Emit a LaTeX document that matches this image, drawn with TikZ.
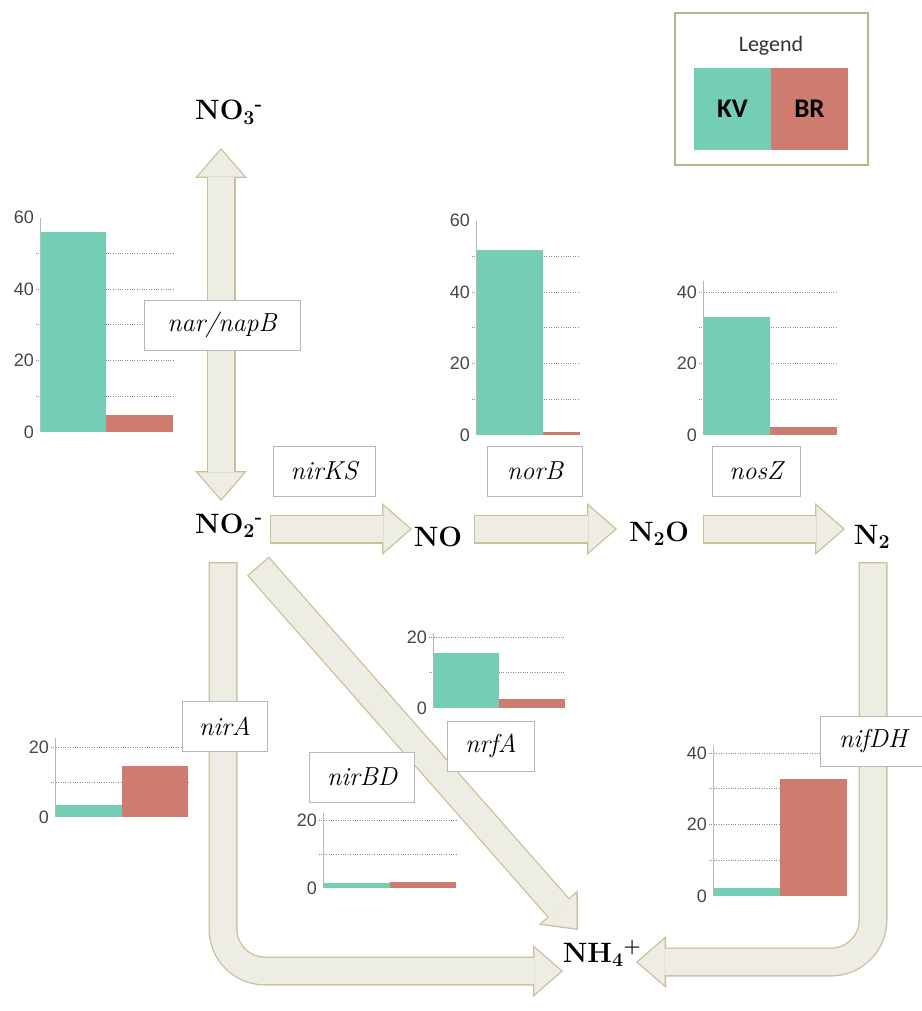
\documentclass[tikz,border=0pt]{standalone}
\usepackage{fontspec}
\usepackage{tikz}
\usetikzlibrary{arrows.meta}
\newfontfamily\chartfont{Liberation Sans}
\newfontfamily\legendfont{Carlito}
\definecolor{kv}{HTML}{74CDB5}
\definecolor{br}{HTML}{CD7C6F}
\definecolor{arrowfill}{HTML}{EEEDE4}
\definecolor{arrowline}{HTML}{C9C09B}
\definecolor{legendline}{HTML}{BDB38C}

\begin{document}
\begin{tikzpicture}[x=1pt, y=-1pt, inner sep=0pt,
    headout/.tip={Triangle[length=30pt, width=52pt, line width=0pt]},
    headin/.tip={Triangle[length=26.7pt, width=46.3pt, line width=0pt]},
    fatout/.style={draw=arrowline, line width=29pt},
    fatin/.style={draw=arrowfill, line width=26.4pt, shorten <=1.3pt, shorten >=2pt},
    chem/.style={font=\fontsize{28}{32}\selectfont\bfseries, anchor=base},
    gene/.style={draw=black!28, line width=0.8pt, fill=white, minimum height=50pt,
      font=\fontsize{26}{30}\selectfont\itshape},
    tick/.style={font=\chartfont\fontsize{18}{20}\selectfont, text=black!72, anchor=east, xshift=-6pt},
    gridline/.style={draw=black!45, line width=0.9pt, dash pattern=on 1pt off 1.4pt},
    axisline/.style={draw=black!28, line width=0.9pt}]
  	\useasboundingbox (0,0) rectangle (921,1011);

  	\node[chem] (no3) at (229,120) {NO\textsubscript{3}\textsuperscript{-}};
  	\node[chem] (no2) at (229,533) {NO\textsubscript{2}\textsuperscript{-}};
  	\node[chem] (no) at (438,546) {NO};
  	\node[chem] (n2o) at (659,541) {N\textsubscript{2}O};
  	\node[chem] (n2) at (872,544) {N\textsubscript{2}};
  	\node[chem] (nh4) at (602,962) {NH\textsubscript{4}\textsuperscript{+}};

  	\coordinate (no3-s) at (221,148);
  	\coordinate (no2-n) at (221,501);
  	\coordinate (no2-e) at (270,529);
  	\coordinate (no-w) at (412,529);
  	\coordinate (no-e) at (474,529);
  	\coordinate (n2o-w) at (617,529);
  	\coordinate (n2o-e) at (703,529);
  	\coordinate (n2-w) at (845,529);
  	\coordinate (no2-s) at (223,562);
  	\coordinate (nh4-w) at (563,971);
  	\coordinate (no2-se) at (258,566);
  	\coordinate (nh4-nw) at (578,930);
  	\coordinate (n2-s) at (873,562);
  	\coordinate (nh4-e) at (636,962);

  	\draw[fatout, headout-headout] (no3-s) -- (no2-n);
  	\draw[fatin, headin-headin, shorten <=2pt] (no3-s) -- (no2-n);
  	\draw[fatout, -headout] (no2-e) -- (no-w);
  	\draw[fatin, -headin] (no2-e) -- (no-w);
  	\draw[fatout, -headout] (no-e) -- (n2o-w);
  	\draw[fatin, -headin] (no-e) -- (n2o-w);
  	\draw[fatout, -headout] (n2o-e) -- (n2-w);
  	\draw[fatin, -headin] (n2o-e) -- (n2-w);
  	\draw[fatout, -headout, rounded corners=42pt] (no2-s) |- (nh4-w);
  	\draw[fatin, -headin, rounded corners=42pt] (no2-s) |- (nh4-w);
  	\draw[fatout, -headout] (no2-se) -- (nh4-nw);
  	\draw[fatin, -headin] (no2-se) -- (nh4-nw);
  	\draw[fatout, -headout, rounded corners=42pt] (n2-s) |- (nh4-e);
  	\draw[fatin, -headin, rounded corners=42pt] (n2-s) |- (nh4-e);

  	\begin{scope}[shift={(40,432)}, y=3.57pt]
  	  \foreach \g in {10,20,...,50} \draw[gridline] (-4,\g) -- (133,\g);
  	  \fill[kv] (0,0) rectangle (66,56);
  	  \fill[br] (66,0) rectangle (133,4.8);
  	  \draw[axisline] (0,60) -- (0,0);
  	  \node[tick] (c1-0) at (0,0) {0};
  	  \node[tick] (c1-20) at (0,20) {20};
  	  \node[tick] (c1-40) at (0,40) {40};
  	  \node[tick] (c1-60) at (0,60) {60};
  	\end{scope}

  	\begin{scope}[shift={(476,435)}, y=3.57pt]
  	  \foreach \g in {10,20,...,50} \draw[gridline] (-4,\g) -- (104,\g);
  	  \fill[kv] (0,0) rectangle (67,51.8);
  	  \fill[br] (67,0) rectangle (104,0.8);
  	  \draw[axisline] (0,60) -- (0,0);
  	  \node[tick] (c2-0) at (0,0) {0};
  	  \node[tick] (c2-20) at (0,20) {20};
  	  \node[tick] (c2-40) at (0,40) {40};
  	  \node[tick] (c2-60) at (0,60) {60};
  	\end{scope}

  	\begin{scope}[shift={(703,435)}, y=3.57pt]
  	  \foreach \g in {10,20,...,40} \draw[gridline] (-4,\g) -- (134,\g);
  	  \fill[kv] (0,0) rectangle (67,33);
  	  \fill[br] (67,0) rectangle (134,2.2);
  	  \draw[axisline] (0,43) -- (0,0);
  	  \node[tick] (c3-0) at (0,0) {0};
  	  \node[tick] (c3-20) at (0,20) {20};
  	  \node[tick] (c3-40) at (0,40) {40};
  	\end{scope}

  	\begin{scope}[shift={(433,708)}, y=3.55pt]
  	  \foreach \g in {10,20} \draw[gridline] (-4,\g) -- (132,\g);
  	  \fill[kv] (0,0) rectangle (66,15.5);
  	  \fill[br] (66,0) rectangle (132,2.5);
  	  \draw[axisline] (0,21) -- (0,0);
  	  \node[tick] (c4-0) at (0,0) {0};
  	  \node[tick] (c4-20) at (0,20) {20};
  	\end{scope}

  	\begin{scope}[shift={(55,817)}, y=3.5pt]
  	  \foreach \g in {10,20} \draw[gridline] (-4,\g) -- (133,\g);
  	  \fill[kv] (0,0) rectangle (67,3.4);
  	  \fill[br] (67,0) rectangle (133,14.6);
  	  \draw[axisline] (0,22.5) -- (0,0);
  	  \node[tick] (c5-0) at (0,0) {0};
  	  \node[tick] (c5-20) at (0,20) {20};
  	\end{scope}

  	\begin{scope}[shift={(323,888)}, y=3.4pt]
  	  \foreach \g in {10,20} \draw[gridline] (-4,\g) -- (133,\g);
  	  \fill[kv] (0,0) rectangle (67,1.4);
  	  \fill[br] (67,0) rectangle (133,1.8);
  	  \draw[axisline] (0,22) -- (0,0);
  	  \node[tick] (c6-0) at (0,0) {0};
  	  \node[tick] (c6-20) at (0,20) {20};
  	\end{scope}

  	\begin{scope}[shift={(713,896)}, y=3.575pt]
  	  \foreach \g in {10,20,...,40} \draw[gridline] (-4,\g) -- (134,\g);
  	  \fill[kv] (0,0) rectangle (67,2.2);
  	  \fill[br] (67,0) rectangle (134,32.7);
  	  \draw[axisline] (0,42) -- (0,0);
  	  \node[tick] (c7-0) at (0,0) {0};
  	  \node[tick] (c7-20) at (0,20) {20};
  	  \node[tick] (c7-40) at (0,40) {40};
  	\end{scope}

  	\node[gene, minimum width=156pt] (narnap) at (222,325) {nar/napB};
  	\node[gene, minimum width=102pt] (nirks) at (324,471) {nirKS};
  	\node[gene, minimum width=95pt] (norb) at (535,471) {norB};
  	\node[gene, minimum width=88pt] (nosz) at (756,471) {nosZ};
  	\node[gene, minimum width=85pt] (nira) at (225,726) {nirA};
  	\node[gene, minimum width=105pt] (nirbd) at (362,777) {nirBD};
  	\node[gene, minimum width=87pt] (nrfa) at (491,746) {nrfA};
  	\node[gene, minimum width=106pt] (nifdh) at (873,741) {nifDH};

  	\node[draw=legendline, line width=2.5pt, fill=white, minimum width=193pt, minimum height=152pt] (legend) at (771.5,89) {};
  	\node[font=\legendfont\fontsize{22}{26}\selectfont, text=black!80] (legtitle) at (771,46) {Legend};
  	\node[fill=kv, minimum width=77pt, minimum height=82pt, font=\legendfont\fontsize{27}{30}\selectfont\bfseries] (kvbox) at (732.5,109) {KV};
  	\node[fill=br, minimum width=77pt, minimum height=82pt, font=\legendfont\fontsize{27}{30}\selectfont\bfseries] (brbox) at (809.5,109) {BR};
\end{tikzpicture}
\end{document}
